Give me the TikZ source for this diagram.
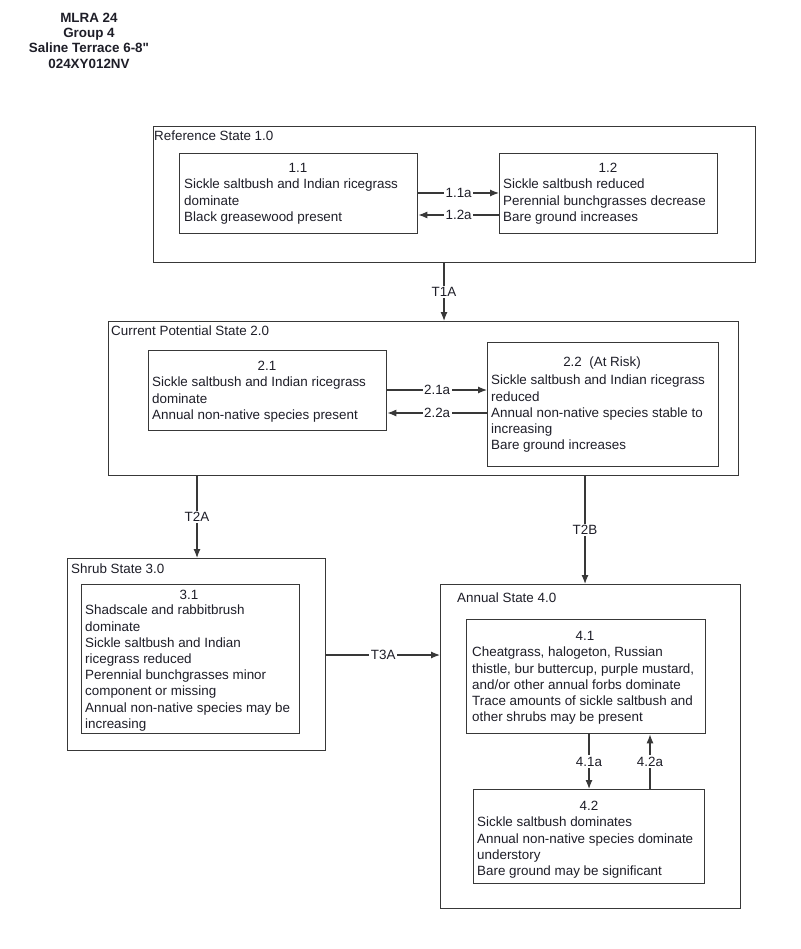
\documentclass[tikz,border=0pt]{standalone}
\usepackage{fontspec}
\setmainfont{Liberation Sans}[Ligatures=TeXOff]
\usetikzlibrary{arrows.meta}
\definecolor{ln}{HTML}{383838}
\definecolor{txt}{HTML}{1E1E28}
\begin{document}
\begin{tikzpicture}[x=1pt,y=-1pt,
  every node/.style={font=\fontsize{13.4}{16.2}\selectfont, text=txt},
  stbox/.style={draw=ln, line width=1.3pt, inner sep=0, anchor=north west},
  cbox/.style={draw=ln, line width=1.3pt, inner sep=0, anchor=north west},
  ttl/.style={anchor=center, inner sep=0},
  body/.style={anchor=north west, align=left, inner sep=0},
  slbl/.style={anchor=west, inner sep=0},
  arr/.style={draw=ln, line width=1.2pt, -{Latex[length=9pt,width=7pt]}},
  lbl/.style={fill=white, inner sep=1.5pt},
  hdr/.style={font=\fontsize{13.4}{15.2}\selectfont\bfseries, align=center, inner sep=0, anchor=north}
]
\useasboundingbox[fill=white] (0,0) rectangle (800,949);

% header
\node[hdr] (hdr) at (89,13) {MLRA 24\\Group 4\\Saline Terrace 6-8"\\024XY012NV};

% ---------- State 1 ----------
\node[stbox, minimum width=602pt, minimum height=136pt] (s1) at (153,126) {};
\node[slbl] (s1l) at (154,136) {Reference State 1.0};
\node[cbox, minimum width=238pt, minimum height=80pt] (b11) at (179,153) {};
\node[ttl] (t11) at (298,168) {1.1};
\node[body] (x11) at (184,179) {Sickle saltbush and Indian ricegrass\\dominate\\Black greasewood present};
\node[cbox, minimum width=218pt, minimum height=80pt] (b12) at (499,153) {};
\node[ttl] (t12) at (608,168) {1.2};
\node[body] (x12) at (503,179) {Sickle saltbush reduced\\Perennial bunchgrasses decrease\\Bare ground increases};

% ---------- State 2 ----------
\node[stbox, minimum width=630pt, minimum height=154pt] (s2) at (108,321) {};
\node[slbl] (s2l) at (111,331) {Current Potential State 2.0};
\node[cbox, minimum width=238pt, minimum height=80pt] (b21) at (148,350) {};
\node[ttl] (t21) at (267,366) {2.1};
\node[body] (x21) at (152,377) {Sickle saltbush and Indian ricegrass\\dominate\\Annual non-native species present};
\node[cbox, minimum width=231pt, minimum height=124pt] (b22) at (487,342) {};
\node[ttl] (t22) at (602,363) {2.2\ \ (At Risk)};
\node[body] (x22) at (491,375) {Sickle saltbush and Indian ricegrass\\reduced\\Annual non-native species stable to\\increasing\\Bare ground increases};

% ---------- State 3 ----------
\node[stbox, minimum width=258pt, minimum height=192pt] (s3) at (67,558) {};
\node[slbl] (s3l) at (71,569) {Shrub State 3.0};
\node[cbox, minimum width=218pt, minimum height=149pt] (b31) at (81,584) {};
\node[ttl] (t31) at (189,595) {3.1};
\node[body] (x31) at (85,605) {Shadscale and rabbitbrush\\dominate\\Sickle saltbush and Indian\\ricegrass reduced\\Perennial bunchgrasses minor\\component or missing\\Annual non-native species may be\\increasing};

% ---------- State 4 ----------
\node[stbox, minimum width=300pt, minimum height=324pt] (s4) at (440,584) {};
\node[slbl] (s4l) at (457,598) {Annual State 4.0};
\node[cbox, minimum width=239pt, minimum height=114pt] (b41) at (466,619) {};
\node[ttl] (t41) at (585,636) {4.1};
\node[body] (x41) at (472,647) {Cheatgrass, halogeton, Russian\\thistle, bur buttercup, purple mustard,\\and/or other annual forbs dominate\\Trace amounts of sickle saltbush and\\other shrubs may be present};
\node[cbox, minimum width=231pt, minimum height=94pt] (b42) at (473,789) {};
\node[ttl] (t42) at (589,806) {4.2};
\node[body] (x42) at (477,817) {Sickle saltbush dominates\\Annual non-native species dominate\\understory\\Bare ground may be significant};

% ---------- connector guides ----------
\coordinate (y11) at (0,193);
\coordinate (y12) at (0,215);
\coordinate (y21) at (0,390);
\coordinate (y22) at (0,413);
\coordinate (xT1) at (444,0);
\coordinate (xT2A) at (197,0);
\coordinate (xT2B) at (585,0);
\coordinate (yT3) at (0,655);
\coordinate (x41) at (589,0);
\coordinate (x42) at (650,0);

% ---------- connectors ----------
\draw[arr] (b11.east |- y11) -- node[lbl]{1.1a} (b12.west |- y11);
\draw[arr] (b12.west |- y12) -- node[lbl]{1.2a} (b11.east |- y12);
\draw[arr] (b21.east |- y21) -- node[lbl]{2.1a} (b22.west |- y21);
\draw[arr] (b22.west |- y22) -- node[lbl]{2.2a} (b21.east |- y22);
\draw[arr] (s1.south -| xT1) -- node[lbl]{T1A} (s2.north -| xT1);
\draw[arr] (s2.south -| xT2A) -- node[lbl]{T2A} (s3.north -| xT2A);
\draw[arr] (s2.south -| xT2B) -- node[lbl]{T2B} (s4.north -| xT2B);
\draw[arr] (s3.east |- yT3) -- node[lbl]{T3A} (s4.west |- yT3);
\draw[arr] (b41.south -| x41) -- node[lbl]{4.1a} (b42.north -| x41);
\draw[arr] (b42.north -| x42) -- node[lbl]{4.2a} (b41.south -| x42);
\end{tikzpicture}
\end{document}
